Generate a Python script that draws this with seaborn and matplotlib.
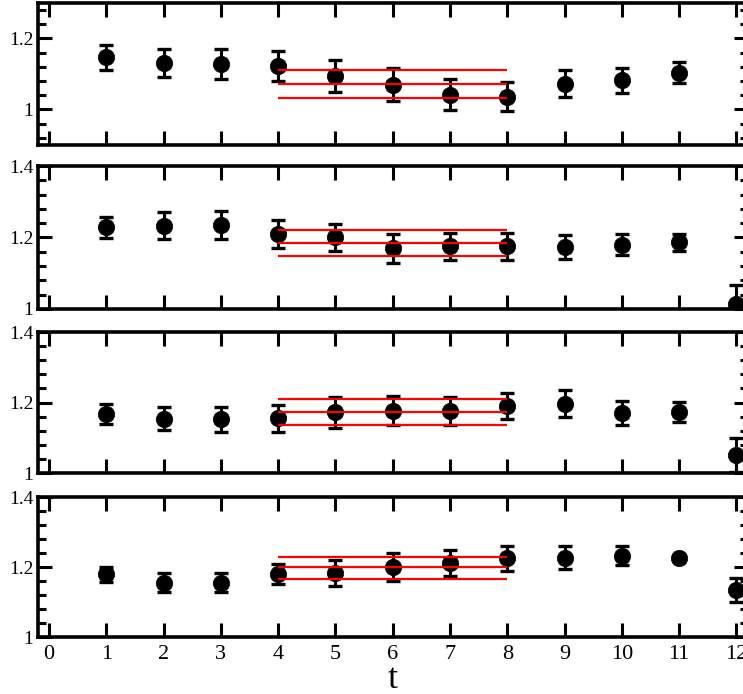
import matplotlib
matplotlib.use("Agg")
import matplotlib.pyplot as plt
import matplotlib.ticker as mticker
import numpy as np
import pandas as pd
import seaborn as sns

# time slices
t_vals = [1, 2, 3, 4, 5, 6, 7, 8, 9, 10, 11, 12]

# panel 1 (top)
p1_y = [1.147, 1.131, 1.129, 1.122, 1.094, 1.070, 1.042, 1.036, 1.073, 1.082, 1.104, np.nan]
p1_err = [0.035, 0.040, 0.042, 0.042, 0.044, 0.046, 0.043, 0.040, 0.038, 0.035, 0.030, np.nan]
p1_fit = [1.110, 1.071, 1.032]

# panel 2
p2_y = [1.228, 1.233, 1.235, 1.210, 1.200, 1.170, 1.175, 1.175, 1.174, 1.180, 1.187, 1.013]
p2_err = [0.029, 0.037, 0.040, 0.039, 0.039, 0.040, 0.038, 0.038, 0.033, 0.029, 0.024, 0.055]
p2_fit = [1.221, 1.185, 1.149]

# panel 3
p3_y = [1.168, 1.154, 1.152, 1.155, 1.172, 1.177, 1.175, 1.191, 1.197, 1.170, 1.174, 1.051]
p3_err = [0.028, 0.033, 0.036, 0.038, 0.043, 0.042, 0.040, 0.037, 0.039, 0.034, 0.028, 0.047]
p3_fit = [1.210, 1.174, 1.137]

# panel 4 (bottom)
p4_y = [1.179, 1.155, 1.155, 1.181, 1.183, 1.199, 1.211, 1.225, 1.227, 1.232, 1.227, 1.134]
p4_err = [0.022, 0.027, 0.027, 0.029, 0.036, 0.040, 0.038, 0.036, 0.033, 0.027, 0.008, 0.034]
p4_fit = [1.228, 1.199, 1.167]

fit_range = (4, 8)

panels = [
    (p1_y, p1_err, p1_fit, (0.9, 1.3)),
    (p2_y, p2_err, p2_fit, (1.0, 1.4)),
    (p3_y, p3_err, p3_fit, (1.0, 1.4)),
    (p4_y, p4_err, p4_fit, (1.0, 1.4)),
]

# axes boxes in figure coords (the right edge runs off the canvas like the original)
boxes = [
    [0.0505, 0.7911, 0.956, 0.2046],
    [0.0505, 0.5548, 0.956, 0.2060],
    [0.0505, 0.3184, 0.956, 0.2032],
    [0.0505, 0.0821, 0.956, 0.2017],
]

sns.set_style("ticks")
plt.rcParams['font.family'] = ['Liberation Serif', 'DejaVu Serif']
plt.rcParams['axes.edgecolor'] = 'black'
plt.rcParams['xtick.color'] = 'black'
plt.rcParams['ytick.color'] = 'black'
plt.rcParams['text.color'] = 'black'
plt.rcParams['axes.labelcolor'] = 'black'

fig = plt.figure(figsize=(7.43, 6.94), dpi=100)

for i, ((yv, ev, fit, ylim), box) in enumerate(zip(panels, boxes)):
    ax = fig.add_axes(box)
    df = pd.DataFrame({"t": t_vals, "y": yv, "err": ev}).dropna()

    ax.errorbar(df["t"], df["y"], yerr=df["err"], fmt='none', ecolor='black',
                elinewidth=2.2, capsize=5, capthick=2.4, zorder=2)
    sns.scatterplot(data=df, x="t", y="y", ax=ax, color="black", s=140,
                    edgecolor="black", linewidth=0.5, zorder=3, legend=False)
    ax.hlines(fit, fit_range[0], fit_range[1], colors='red', lw=1.6, zorder=4)

    ax.set_xlim(-0.2, 12.2)
    ax.set_ylim(*ylim)
    ax.xaxis.set_major_locator(mticker.MultipleLocator(1))
    ax.yaxis.set_major_locator(mticker.MultipleLocator(0.2))
    ax.yaxis.set_minor_locator(mticker.MultipleLocator(0.04))
    ax.yaxis.set_major_formatter(mticker.FuncFormatter(lambda v, p: f"{v:g}"))

    ax.tick_params(which='both', direction='in', top=True, right=True, width=2.2,
                   color='black')
    ax.tick_params(which='major', length=10)
    ax.tick_params(which='minor', length=5.5)
    ax.tick_params(axis='y', labelsize=14, pad=3)
    ax.tick_params(axis='x', labelsize=16, pad=6)
    for sp in ax.spines.values():
        sp.set_linewidth(2.6)
        sp.set_color('black')

    ax.set_ylabel("")
    if i < 3:
        ax.set_xticklabels([])
        ax.set_xlabel("")
    else:
        ax.set_xlabel("t", fontsize=26, labelpad=-1)

fig.savefig("out.png", dpi=100)
